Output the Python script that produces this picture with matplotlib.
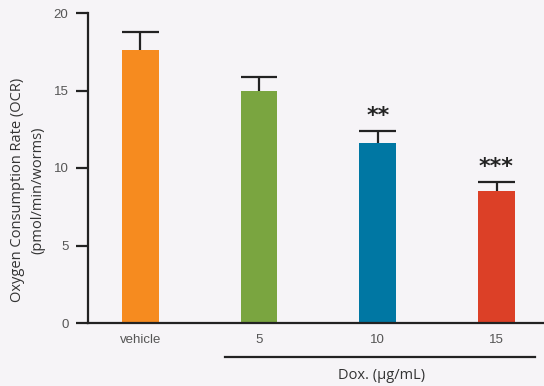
import matplotlib
matplotlib.use('Agg')
import matplotlib.pyplot as plt
import numpy as np

# data
groups = ['vehicle', '5', '10', '15']
ocr_mean = [17.6, 15.0, 11.6, 8.5]
ocr_err = [1.2, 0.9, 0.8, 0.6]
signif = ['', '', '**', '***']
bar_colors = ['#f68b1f', '#7aa540', '#0077a3', '#dc4027']

bg = '#f6f4f7'
ink = '#222222'

fig = plt.figure(figsize=(5.44, 3.86), dpi=100, facecolor=bg)
ax = fig.add_axes([88 / 544, 63 / 386, 456 / 544, 310 / 386], facecolor=bg)

x = np.arange(len(groups))
bw = 0.31
ax.bar(x, ocr_mean, width=bw, color=bar_colors, zorder=2)

# upper-only error bars: stem + cap
tops = np.array(ocr_mean) + np.array(ocr_err)
ax.vlines(x, ocr_mean, tops, color=ink, lw=1.6, zorder=3)
ax.hlines(tops, x - bw / 2, x + bw / 2, color=ink, lw=1.6, zorder=3)

for xi, t, s in zip(x, tops, signif):
    if s:
        ax.text(xi, t + 0.95, s, ha='center', va='center', fontsize=16,
                fontweight='bold', color=ink, family='DejaVu Sans')

ax.set_xlim(-0.44, 3.40)
ax.set_ylim(0, 20)
ax.set_yticks([0, 5, 10, 15, 20])
ax.set_xticks(x)
ax.set_xticklabels(groups)

for sp in ['top', 'right']:
    ax.spines[sp].set_visible(False)
for sp in ['left', 'bottom']:
    ax.spines[sp].set_linewidth(1.6)
    ax.spines[sp].set_color(ink)

ax.tick_params(axis='y', length=9, width=1.6, color=ink, pad=5,
               labelsize=9.5, labelcolor='#555555')
ax.tick_params(axis='x', length=0, pad=8, labelsize=9.5, labelcolor='#555555')
for lab in ax.get_xticklabels() + ax.get_yticklabels():
    lab.set_family('Liberation Sans')

fig.text(28 / 544, 1 - 190 / 386, 'Oxygen Consumption Rate (OCR)\n(pmol/min/worms)',
         rotation=90, ha='center', va='center', fontsize=10.5, family='Open Sans',
         color='#333333', linespacing=1.5, multialignment='center')

# Dox bracket line under the dose labels
trans = ax.get_xaxis_transform()
ax.plot([0.71, 3.32], [-0.11, -0.11], color=ink, lw=1.6, transform=trans,
        clip_on=False)
ax.text(2.03, -0.168, 'Dox. (\u00b5g/mL)', transform=trans, ha='center', va='center',
        fontsize=10.5, family='Open Sans', color='#333333')

fig.savefig('out.png', dpi=100, facecolor=bg)
